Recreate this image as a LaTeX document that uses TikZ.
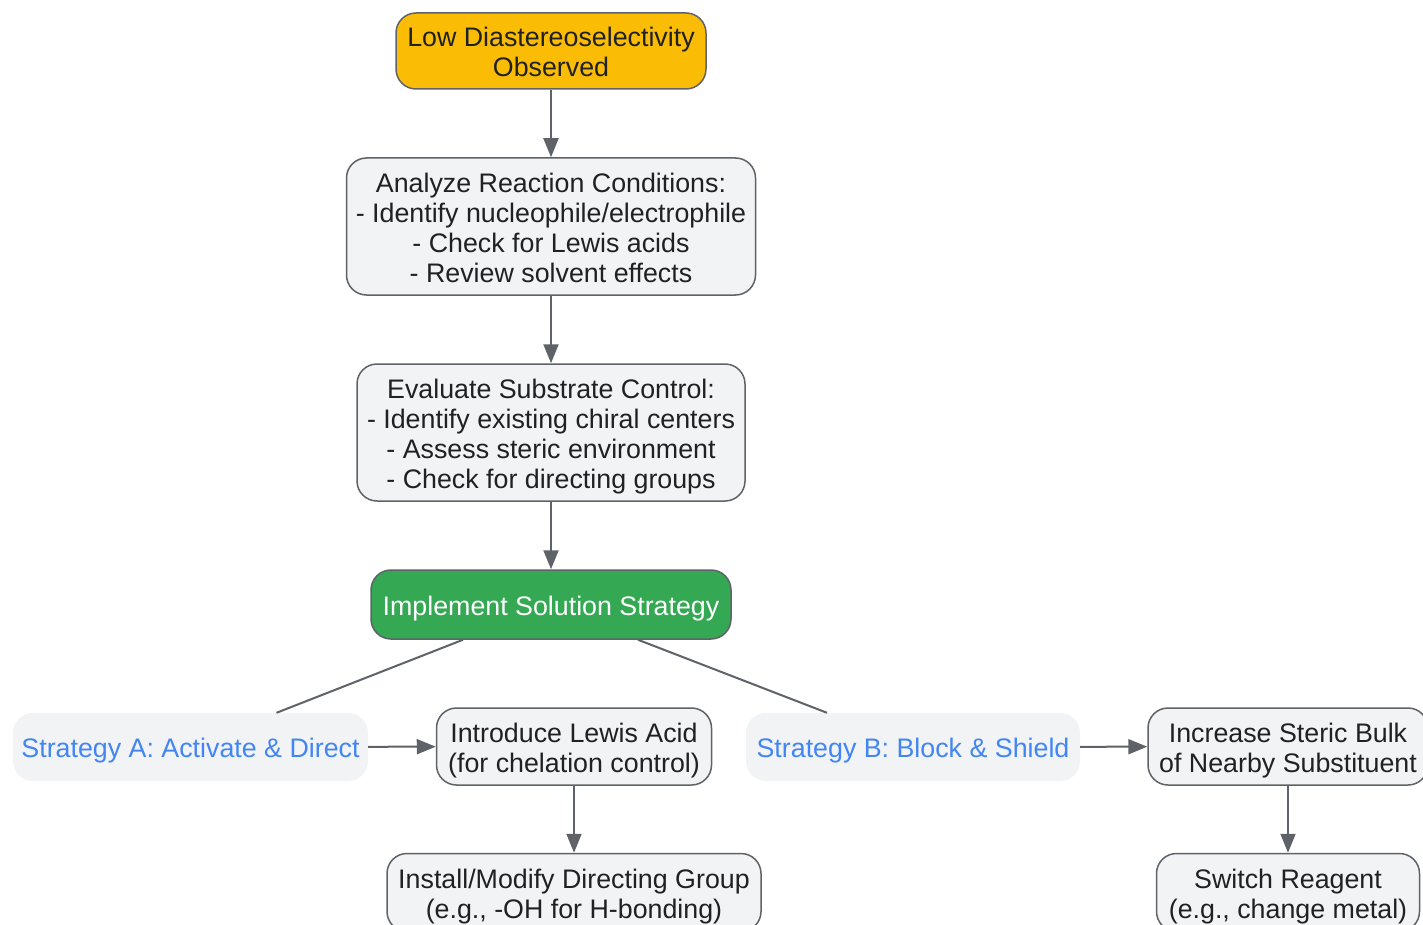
\documentclass[tikz,border=0pt]{standalone}
\usepackage{fontspec}
\setmainfont{Liberation Sans}
\usetikzlibrary{arrows.meta}
\definecolor{edgegray}{HTML}{5F6368}
\definecolor{boxfill}{HTML}{F1F3F4}
\definecolor{yel}{HTML}{FABC05}
\definecolor{grn}{HTML}{34A853}
\definecolor{blu}{HTML}{4285F4}
\definecolor{txt}{HTML}{202124}
\newcommand\ls{\rule[-6pt]{0pt}{33.6pt}}
\newcommand\boxfont{\fontsize{26.8}{30}\selectfont\lineskiplimit=-100pt\lineskip=0pt}
\begin{document}
\begin{tikzpicture}[x=1pt,y=-1pt,
  box/.style={draw=edgegray, line width=1.5pt, rounded corners=20pt, fill=boxfill, align=center, text=txt, font=\boxfont, inner sep=0pt},
  strat/.style={fill=boxfill, rounded corners=20pt, align=center, text=blu, font=\boxfont, inner sep=0pt},
  arr/.style={draw=edgegray, line width=2pt, -{Triangle[width=15pt,length=19pt]}},
  ln/.style={draw=edgegray, line width=2pt}]
\useasboundingbox (0,0) rectangle (1423,925);
\fill[white] (0,0) rectangle (1423,925);
\node[box, fill=yel, minimum width=310pt, minimum height=76pt] (top) at (551,51) {\ls Low Diastereoselectivity\\\ls Observed};
\node[box, minimum width=409pt, minimum height=137pt] (analyze) at (551,226.5) {\ls Analyze Reaction Conditions:\\\ls - Identify nucleophile/electrophile\\\ls - Check for Lewis acids\\\ls - Review solvent effects};
\node[box, minimum width=388pt, minimum height=137pt] (evaluate) at (551,432.5) {\ls Evaluate Substrate Control:\\\ls - Identify existing chiral centers\\\ls - Assess steric environment\\\ls - Check for directing groups};
\node[box, fill=grn, text=white, minimum width=360pt, minimum height=69pt] (impl) at (551,604.5) {\ls Implement Solution Strategy};
\node[strat, minimum width=355pt, minimum height=68pt] (sa) at (190.5,747) {\ls Strategy A: Activate \& Direct};
\node[box, minimum width=275pt, minimum height=77pt] (lewis) at (574,746.5) {\ls Introduce Lewis Acid\\\ls (for chelation control)};
\node[box, minimum width=374pt, minimum height=78pt] (install) at (574,892.5) {\ls Install/Modify Directing Group\\\ls (e.g., -OH for H-bonding)};
\node[strat, minimum width=334pt, minimum height=68pt] (sb) at (913,747) {\ls Strategy B: Block \& Shield};
\node[box, minimum width=280pt, minimum height=77pt] (bulk) at (1288,746.5) {\ls Increase Steric Bulk\\\ls of Nearby Substituent};
\node[box, minimum width=263pt, minimum height=78pt] (switch) at (1288,892.5) {\ls Switch Reagent\\\ls (e.g., change metal)};
\draw[arr] (top) -- (analyze);
\draw[arr] (analyze) -- (evaluate);
\draw[arr] (evaluate) -- (impl);
\draw[ln] ([xshift=-88pt]impl.south) -- ([xshift=86pt]sa.north);
\draw[ln] ([xshift=87pt]impl.south) -- ([xshift=-86pt]sb.north);
\draw[arr] (sa) -- (lewis);
\draw[arr] (lewis) -- (install);
\draw[arr] (sb) -- (bulk);
\draw[arr] (bulk) -- (switch);
\end{tikzpicture}
\end{document}
